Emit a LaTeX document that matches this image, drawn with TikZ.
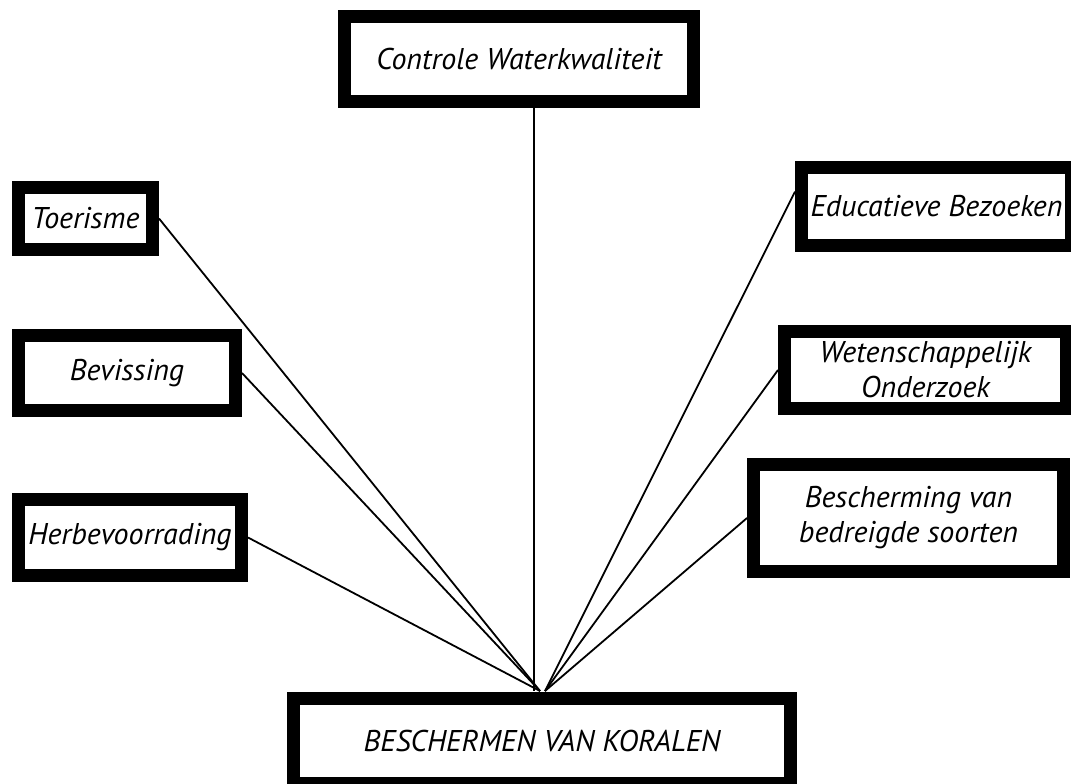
\documentclass[tikz,border=0pt]{standalone}
\usepackage{fontspec}
\setmainfont{PT Sans}
\usetikzlibrary{positioning,calc}
\tikzset{
    topic/.style={rectangle, draw, line width=6.5pt, fill=white, inner sep=2pt, align=center,
        font=\itshape\fontsize{15}{17.5}\selectfont},
    link/.style={draw, line width=0.9pt},
}
\begin{document}
\begin{tikzpicture}[x=0.5pt, y=-0.5pt]
        \useasboundingbox (0,0) rectangle (1071,783);
        % boxes at pixel centres of the reference
        \node[topic, minimum width=174.5pt, minimum height=42.5pt] (ctrl) at (519,59) {Controle Waterkwaliteit};
        \node[topic, minimum width=67pt, minimum height=31pt] (toer) at (85.5,218.5) {Toerisme};
        \node[topic, minimum width=108.5pt, minimum height=37.5pt] (bev) at (127,373) {Bevissing};
        \node[topic, minimum width=111.5pt, minimum height=38pt] (herb) at (130,537.5) {Herbevoorrading};
        \node[topic, minimum width=135pt, minimum height=39pt] (edu) at (936.5,206.5) {Educatieve Bezoeken};
        \node[topic, minimum width=141pt, minimum height=38.5pt] (wet) at (925.5,370) {Wetenschappelijk\\Onderzoek};
        \node[topic, minimum width=155pt, minimum height=53.5pt] (besch) at (908.5,518) {Bescherming van\\bedreigde soorten};
        \node[topic, minimum width=248.5pt, minimum height=42.5pt] (koraal) at (542,741) {BESCHERMEN VAN KORALEN};
        % meeting points on top of the bottom box
        \coordinate (mid) at (534,691);
        \coordinate (hubL) at (540,691);
        \coordinate (hubR) at (545,691);
        \draw[link] (ctrl.south -| mid) -- (mid);
        \foreach \name in {toer, bev, herb}
            \draw[link] (\name.east) -- (hubL);
        \draw[link] (edu.174) -- (hubR);
        \foreach \name in {wet, besch}
            \draw[link] (\name.west) -- (hubR);
    \end{tikzpicture}
\end{document}
